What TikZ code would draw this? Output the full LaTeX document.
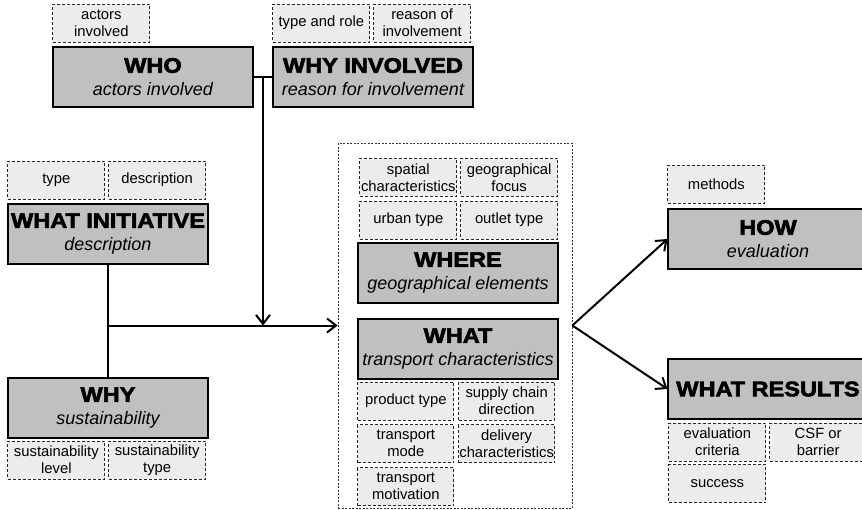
\documentclass[tikz,border=0pt]{standalone}
\usepackage{fontspec}
\setmainfont{Liberation Sans}
\newfontfamily\titlefont{Liberation Sans}[BoldFeatures={FakeBold=3,FakeStretch=1.12}]
\usetikzlibrary{arrows.meta,positioning,calc}
\definecolor{boxgray}{RGB}{192,192,192}
\definecolor{subgray}{RGB}{236,236,236}
\newcommand{\boxhead}[2]{{\fontsize{21}{23}\titlefont\bfseries #1}\\{\itshape #2}}
\tikzstyle{mainbox} = [rectangle, minimum width=200pt, minimum height=60pt, inner sep=0pt, align=center, draw=black, line width=1.1pt, fill=boxgray, font=\fontsize{18}{23}\selectfont]
\tikzstyle{subbox} = [rectangle, minimum width=97pt, minimum height=38pt, inner sep=0pt, align=center, draw=black!85, line width=0.8pt, dash pattern=on 3pt off 2pt, fill=subgray, font=\fontsize{14.8}{17}\selectfont]
\tikzstyle{container} = [rectangle, minimum width=234pt, minimum height=365pt, draw=black!80, line width=0.7pt, dash pattern=on 2pt off 1.5pt]
\tikzstyle{line} = [line width=2pt]
\tikzstyle{arrow} = [line width=2pt, -{Straight Barb[length=9pt,width=14pt]}]

\begin{document}
\begin{tikzpicture}[x=1pt, y=-1pt, node distance=3pt]
\useasboundingbox (0,0) rectangle (862,509);
\clip (0,0) rectangle (862,509);
\node (focus) [container] at (455,325.5) {};

\node (who) [mainbox] at (153,77) {\boxhead{WHO}{actors involved}};
\node (whyinv) [mainbox] at (373,77) {\boxhead{WHY INVOLVED}{reason for involvement}};
\node (whatinit) [mainbox] at (108,234) {\boxhead{WHAT INITIATIVE}{description}};
\node (why) [mainbox] at (108,408) {\boxhead{WHY}{sustainability}};
\node (where) [mainbox] at (458,273) {\boxhead{WHERE}{geographical elements}};
\node (what) [mainbox] at (458,349) {\boxhead{WHAT}{transport characteristics}};
\node (how) [mainbox] at (768,239) {\boxhead{HOW}{evaluation}};
\node (results) [mainbox] at (768,389) {{\fontsize{21}{23}\titlefont\bfseries WHAT RESULTS}};

\node (actors) [subbox, above right=4pt and 0pt of who.north west] {actors\\involved};
\node (typerole) [subbox, above right=4pt and 0pt of whyinv.north west] {type and role};
\node (reason) [subbox, right=of typerole] {reason of\\involvement};
\node (inittype) [subbox, above right=4pt and 0pt of whatinit.north west] {type};
\node (initdesc) [subbox, right=of inittype] {description};
\node (sustlevel) [subbox, below right=2pt and 0pt of why.south west] {sustainability\\level};
\node (susttype) [subbox, right=of sustlevel] {sustainability\\type};
\node (urban) [subbox, above right=3pt and 2pt of where.north west] {urban type};
\node (outlet) [subbox, right=of urban] {outlet type};
\node (spatial) [subbox, above=4pt of urban] {spatial\\characteristics};
\node (geofocus) [subbox, above=4pt of outlet] {geographical\\focus};
\node (product) [subbox, below right=2pt and 0pt of what.south west, minimum width=96pt] {product type};
\node (supply) [subbox, right=4pt of product, minimum width=96pt] {supply chain\\direction};
\node (mode) [subbox, below=4pt of product, minimum width=96pt] {transport\\mode};
\node (delivery) [subbox, right=4pt of mode, minimum width=96pt] {delivery\\characteristics};
\node (motivation) [subbox, below=4pt of mode, minimum width=96pt] {transport\\motivation};
\node (methods) [subbox, above right=5pt and 0pt of how.north west] {methods};
\node (evalcrit) [subbox, below right=3pt and 1pt of results.south west] {evaluation\\criteria};
\node (csf) [subbox, right=of evalcrit] {CSF or\\barrier};
\node (success) [subbox, below=3pt of evalcrit] {success};

\coordinate (top) at ($(who.east)!0.5!(whyinv.west)$);
\coordinate (meet) at (top |- focus.west);
\coordinate (branch) at (whatinit.south |- focus.west);

\draw [line] (who.east) -- (whyinv.west);
\draw [arrow] (top) -- (meet);
\draw [line] (whatinit.south) -- (why.north);
\draw [arrow] (branch) -- (focus.west);
\draw [arrow] (focus.east) -- (how.west);
\draw [arrow] (focus.east) -- (results.west);
\end{tikzpicture}
\end{document}
